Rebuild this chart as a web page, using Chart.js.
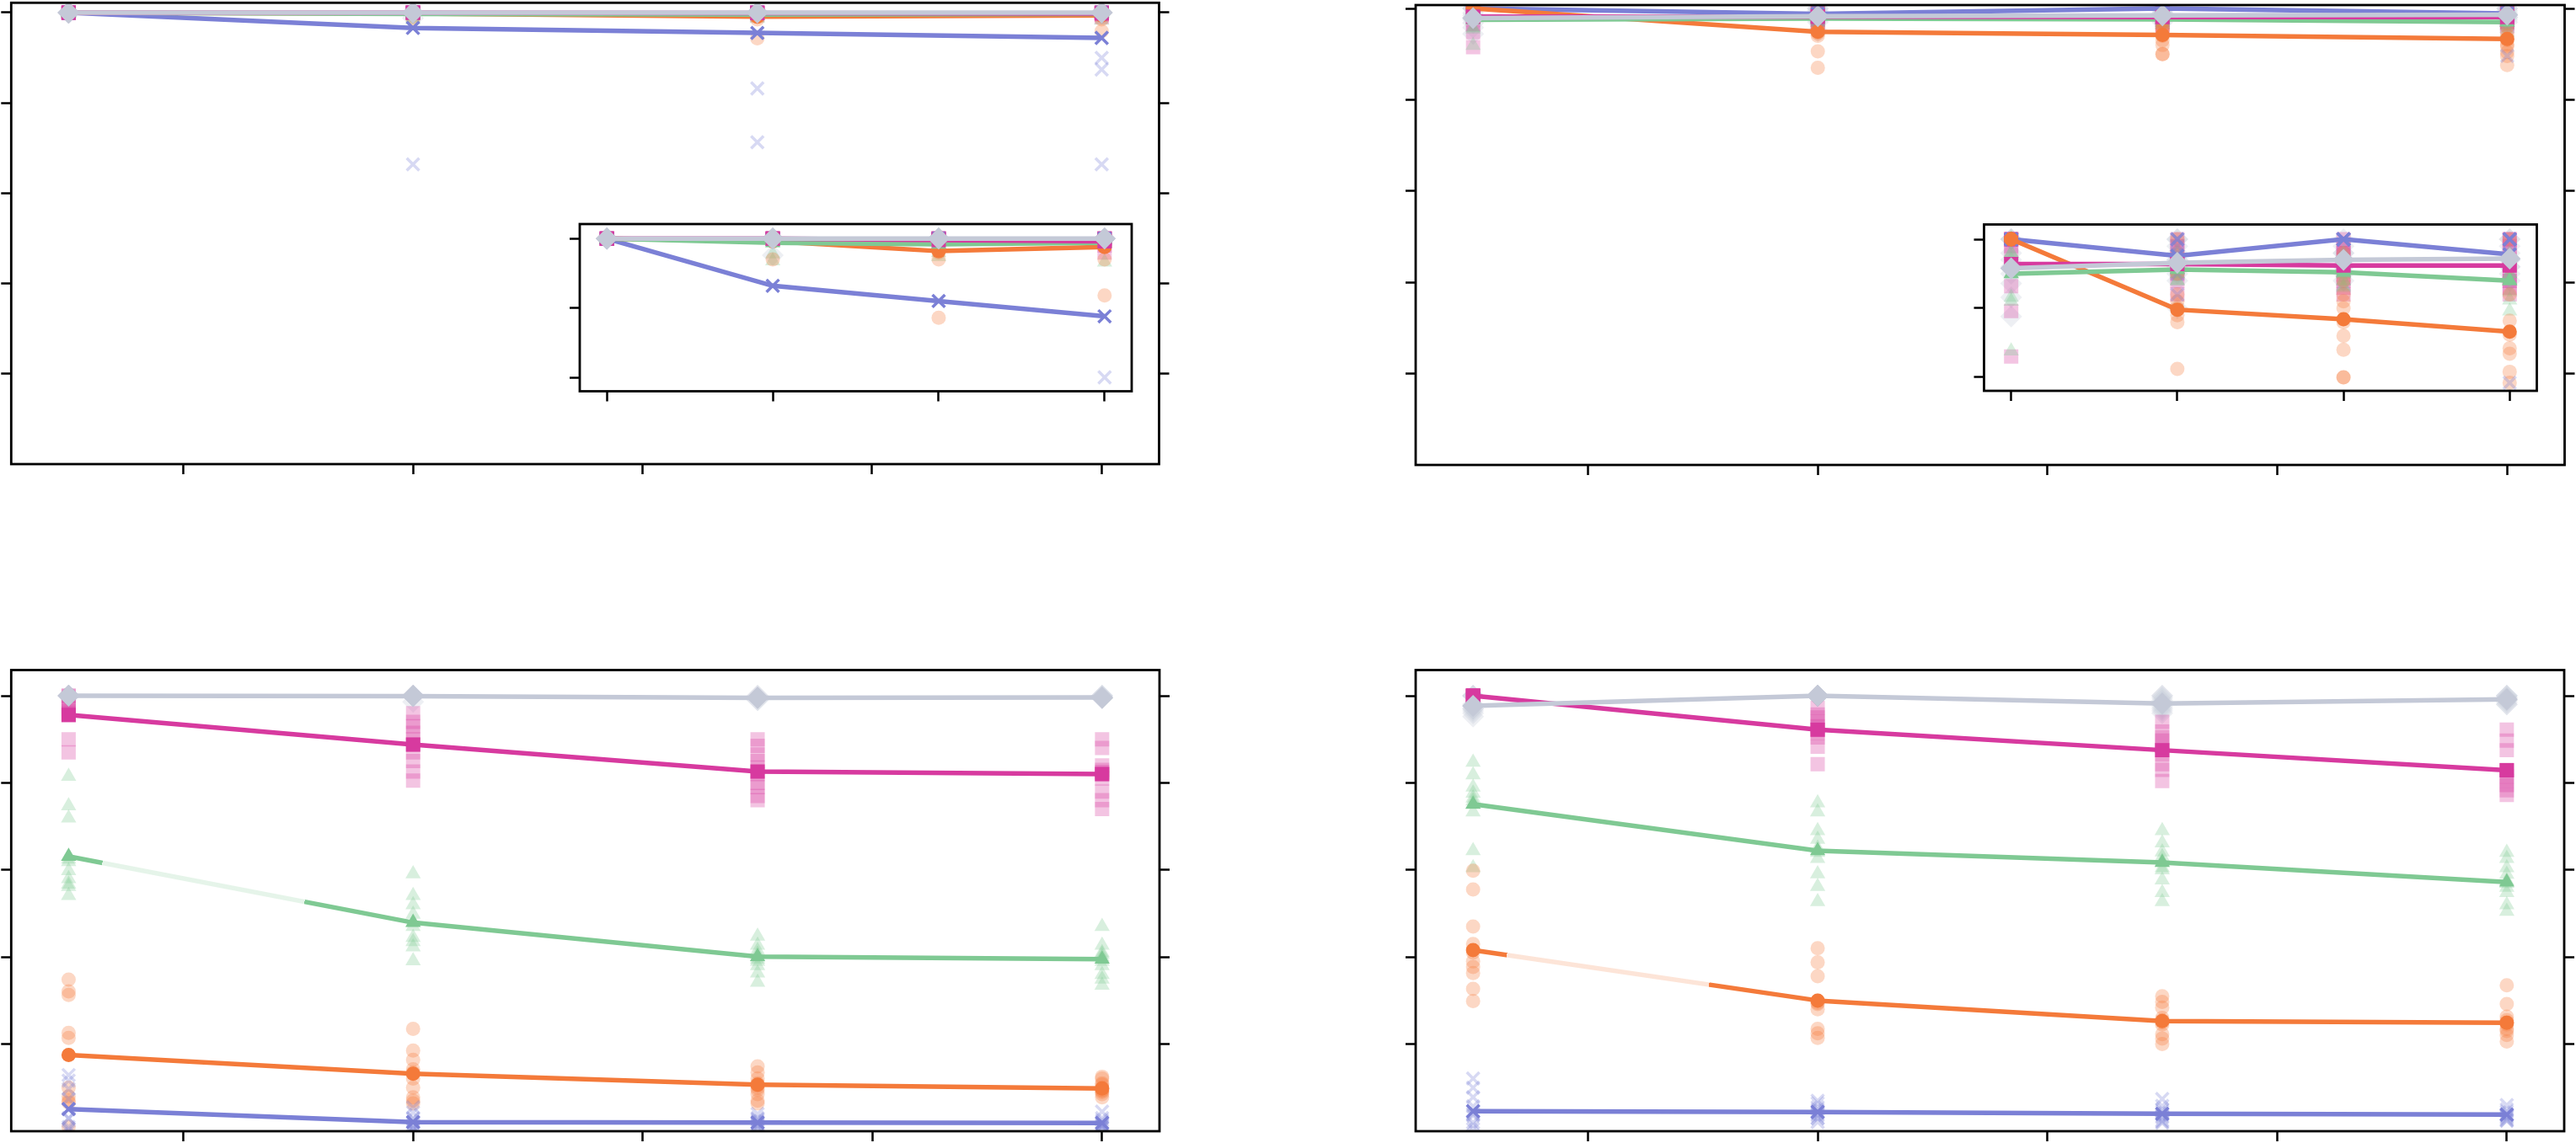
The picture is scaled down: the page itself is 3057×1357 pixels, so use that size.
<!DOCTYPE html>
<html lang="en">
<head>
<meta charset="UTF-8">
<title>Runs and mean per step</title>
<script src="https://cdn.jsdelivr.net/npm/chart.js@4"></script>
<style>
  html, body { margin: 0; padding: 0; background: #fff; overflow: hidden; }
  #wrap { position: relative; width: 3057px; height: 1357px; }
  #wrap canvas { position: absolute; left: 0; top: 0; }
</style>
</head>
<body>
<div id="wrap">
  <canvas id="tl" width="3057" height="1357"></canvas>
  <canvas id="tr" width="3057" height="1357"></canvas>
  <canvas id="bl" width="3057" height="1357"></canvas>
  <canvas id="br" width="3057" height="1357"></canvas>
  <canvas id="tlInset" width="3057" height="1357"></canvas>
  <canvas id="trInset" width="3057" height="1357"></canvas>
</div>
<script>
// x positions of the four steps and the tick marks
const xValues = [0, 3, 6, 9];
const xTickValues = [1, 3, 5, 7, 9];
const yTickValues = [0.2, 0.4, 0.6, 0.8, 1.0];
const insetYTickValues = [0.9, 0.95, 1.0];

// ---- top left ----
const tlBlueMean   = [1.000, 0.966, 0.955, 0.944];
const tlOrangeMean = [1.000, 0.998, 0.991, 0.994];
const tlGreenMean  = [1.000, 0.997, 0.996, 0.997];
const tlPinkMean   = [1.000, 1.000, 0.999, 0.998];
const tlGreyMean   = [1.000, 1.000, 1.000, 1.000];
const tlBlueRuns = [
  [1, 1, 1, 1, 1, 1, 1, 1, 1, 1],
  [1, 1, 1, 1, 1, 1, 1, 1, 1, 0.664],
  [1, 1, 1, 1, 1, 1, 1, 1, 0.832, 0.713],
  [1, 1, 1, 1, 1, 1, 1, 0.900, 0.874, 0.664]
];
const tlOrangeRuns = [
  [1, 1, 1, 1, 1, 1, 1, 1, 1, 1],
  [1, 1, 1, 1, 1, 1, 1, 1, 1, 0.985],
  [1, 1, 1, 1, 1, 1, 1, 0.990, 0.985, 0.943],
  [1, 1, 1, 1, 1, 1, 1, 1, 0.985, 0.959]
];
const tlGreenRuns = [
  [1, 1, 1, 1, 1, 1, 1, 1, 1, 1],
  [1, 1, 1, 1, 1, 1, 1, 1, 0.989, 0.984],
  [1, 1, 1, 1, 1, 1, 1, 1, 0.990, 0.987],
  [1, 1, 1, 1, 1, 1, 1, 1, 1, 0.983]
];
const tlPinkRuns = [
  [1, 1, 1, 1, 1, 1, 1, 1, 1, 1],
  [1, 1, 1, 1, 1, 1, 1, 1, 1, 1],
  [1, 1, 1, 1, 1, 1, 1, 1, 1, 0.995],
  [1, 1, 1, 1, 1, 1, 1, 1, 0.995, 0.990]
];
const tlGreyRuns = [
  [1, 1, 1, 1, 1, 1, 1, 1, 1, 1],
  [1, 1, 1, 1, 1, 1, 1, 1, 1, 0.988],
  [1, 1, 1, 1, 1, 1, 1, 1, 1, 1],
  [1, 1, 1, 1, 1, 1, 1, 1, 1, 1]
];

// ---- top right ----
const trBlueMean   = [1.000, 0.988, 1.000, 0.989];
const trOrangeMean = [1.000, 0.949, 0.942, 0.933];
const trGreenMean  = [0.975, 0.978, 0.976, 0.970];
const trPinkMean   = [0.982, 0.982, 0.981, 0.981];
const trGreyMean   = [0.979, 0.983, 0.985, 0.986];
const trBlueRuns = [
  [1, 1, 1, 1, 1, 1, 1, 1, 1, 1],
  [1, 1, 1, 1, 0.995, 0.990, 0.985, 0.980, 0.975, 0.960],
  [1, 1, 1, 1, 1, 1, 1, 1, 1, 1],
  [1, 1, 1, 1, 1, 1, 1, 1, 0.990, 0.896]
];
const trOrangeRuns = [
  [1, 1, 1, 1, 1, 1, 1, 1, 1, 1],
  [1.000, 0.990, 0.975, 0.960, 0.955, 0.950, 0.945, 0.940, 0.906, 0.870],
  [0.990, 0.970, 0.960, 0.955, 0.950, 0.940, 0.930, 0.920, 0.900, 0.900],
  [1.000, 0.980, 0.960, 0.941, 0.931, 0.921, 0.917, 0.904, 0.896, 0.876]
];
const trGreenRuns = [
  [1.000, 1.000, 0.990, 0.990, 0.985, 0.980, 0.975, 0.958, 0.955, 0.919],
  [0.990, 0.985, 0.980, 0.980, 0.978, 0.977, 0.975, 0.975, 0.970, 0.970],
  [0.990, 0.985, 0.980, 0.980, 0.975, 0.975, 0.970, 0.970, 0.965, 0.966],
  [0.990, 0.985, 0.980, 0.975, 0.975, 0.970, 0.970, 0.962, 0.956, 0.948]
];
const trPinkRuns = [
  [1.000, 1.000, 1.000, 1.000, 1.000, 0.995, 0.990, 0.966, 0.948, 0.915],
  [1.000, 0.995, 0.990, 0.985, 0.985, 0.980, 0.980, 0.975, 0.970, 0.960],
  [1.000, 0.995, 0.990, 0.990, 0.985, 0.980, 0.975, 0.970, 0.965, 0.960],
  [1.000, 1.000, 0.995, 0.990, 0.985, 0.975, 0.970, 0.970, 0.965, 0.960]
];
const trGreyRuns = [
  [1.000, 1.000, 1.000, 0.990, 0.985, 0.980, 0.975, 0.968, 0.958, 0.944],
  [1.000, 1.000, 0.995, 0.990, 0.985, 0.985, 0.980, 0.975, 0.970, 0.950],
  [1.000, 0.995, 0.990, 0.990, 0.985, 0.985, 0.980, 0.980, 0.975, 0.970],
  [1.000, 1.000, 0.995, 0.990, 0.985, 0.985, 0.980, 0.980, 0.975, 0.970]
];

// ---- bottom left ----
const blBlueMean   = [0.051, 0.021, 0.020, 0.019];
const blOrangeMean = [0.175, 0.132, 0.107, 0.098];
const blGreenMean  = [0.631, 0.479, 0.401, 0.395];
const blPinkMean   = [0.956, 0.888, 0.826, 0.820];
const blGreyMean   = [1.000, 0.999, 0.995, 0.996];
const blBlueRuns = [
  [0.129, 0.116, 0.097, 0.074, 0.050, 0.030, 0.029, 0.010, 0.005, 0.000],
  [0.055, 0.043, 0.030, 0.028, 0.020, 0.014, 0.010, 0.007, 0.005, 0.000],
  [0.040, 0.030, 0.028, 0.025, 0.020, 0.018, 0.015, 0.012, 0.008, 0.004],
  [0.045, 0.030, 0.025, 0.020, 0.018, 0.015, 0.013, 0.010, 0.008, 0.008]
];
const blOrangeRuns = [
  [0.348, 0.321, 0.313, 0.226, 0.214, 0.100, 0.080, 0.070, 0.066, 0.010],
  [0.235, 0.185, 0.164, 0.142, 0.135, 0.121, 0.100, 0.078, 0.070, 0.064],
  [0.149, 0.135, 0.121, 0.110, 0.105, 0.100, 0.095, 0.085, 0.070, 0.064],
  [0.125, 0.121, 0.110, 0.107, 0.100, 0.095, 0.093, 0.090, 0.085, 0.078]
];
const blGreenRuns = [
  [0.815, 0.747, 0.719, 0.625, 0.619, 0.598, 0.580, 0.567, 0.562, 0.541],
  [0.591, 0.541, 0.520, 0.498, 0.480, 0.470, 0.445, 0.435, 0.423, 0.391],
  [0.448, 0.427, 0.415, 0.406, 0.400, 0.395, 0.390, 0.380, 0.363, 0.342],
  [0.470, 0.427, 0.410, 0.406, 0.400, 0.390, 0.380, 0.360, 0.349, 0.335]
];
const blPinkRuns = [
  [1.000, 1.000, 0.985, 0.975, 0.970, 0.965, 0.960, 0.955, 0.900, 0.870],
  [0.960, 0.940, 0.930, 0.915, 0.900, 0.888, 0.870, 0.850, 0.826, 0.805],
  [0.900, 0.885, 0.865, 0.850, 0.835, 0.820, 0.800, 0.790, 0.770, 0.760],
  [0.900, 0.880, 0.840, 0.830, 0.825, 0.820, 0.810, 0.780, 0.760, 0.740]
];
const blGreyRuns = [
  [1, 1, 1, 1, 1, 1, 1, 1, 1, 1],
  [1, 1, 1, 1, 1, 1, 1, 1, 1, 0.986],
  [1.000, 1.000, 0.995, 0.995, 0.995, 0.995, 0.995, 0.995, 0.990, 0.990],
  [1.000, 1.000, 1.000, 0.995, 0.995, 0.995, 0.995, 0.995, 0.995, 0.994]
];

// ---- bottom right ----
const brBlueMean   = [0.046, 0.044, 0.040, 0.038];
const brOrangeMean = [0.416, 0.300, 0.253, 0.249];
const brGreenMean  = [0.751, 0.644, 0.617, 0.572];
const brPinkMean   = [1.000, 0.922, 0.875, 0.829];
const brGreyMean   = [0.977, 1.000, 0.982, 0.992];
const brBlueRuns = [
  [0.121, 0.100, 0.078, 0.057, 0.046, 0.040, 0.036, 0.020, 0.014, 0.005],
  [0.070, 0.064, 0.055, 0.050, 0.045, 0.040, 0.036, 0.030, 0.030, 0.021],
  [0.074, 0.058, 0.050, 0.045, 0.040, 0.035, 0.032, 0.025, 0.022, 0.019],
  [0.060, 0.050, 0.045, 0.040, 0.038, 0.035, 0.032, 0.028, 0.025, 0.024]
];
const brOrangeRuns = [
  [0.598, 0.555, 0.470, 0.430, 0.410, 0.390, 0.377, 0.363, 0.327, 0.299],
  [0.420, 0.388, 0.356, 0.300, 0.295, 0.292, 0.280, 0.235, 0.225, 0.214],
  [0.310, 0.297, 0.284, 0.260, 0.255, 0.250, 0.245, 0.223, 0.213, 0.200],
  [0.335, 0.292, 0.263, 0.255, 0.250, 0.245, 0.235, 0.230, 0.221, 0.206]
];
const brGreenRuns = [
  [0.847, 0.818, 0.790, 0.776, 0.765, 0.758, 0.750, 0.733, 0.644, 0.605],
  [0.754, 0.733, 0.690, 0.670, 0.650, 0.640, 0.626, 0.591, 0.562, 0.527],
  [0.690, 0.662, 0.641, 0.630, 0.620, 0.605, 0.600, 0.577, 0.548, 0.527],
  [0.640, 0.626, 0.605, 0.590, 0.575, 0.569, 0.560, 0.548, 0.520, 0.505]
];
const brPinkRuns = [
  [1, 1, 1, 1, 1, 1, 1, 1, 1, 1],
  [0.972, 0.957, 0.950, 0.940, 0.930, 0.922, 0.915, 0.904, 0.883, 0.843],
  [0.940, 0.918, 0.905, 0.897, 0.885, 0.875, 0.865, 0.830, 0.843, 0.804],
  [0.922, 0.897, 0.875, 0.830, 0.829, 0.815, 0.795, 0.804, 0.783, 0.772]
];
const brGreyRuns = [
  [1.000, 1.000, 1.000, 0.980, 0.975, 0.970, 0.970, 0.965, 0.960, 0.952],
  [1, 1, 1, 1, 1, 1, 1, 1, 1, 1],
  [1.000, 1.000, 0.995, 0.990, 0.985, 0.980, 0.975, 0.970, 0.960, 0.965],
  [1.000, 1.000, 1.000, 0.995, 0.995, 0.990, 0.990, 0.985, 0.980, 0.980]
];

// ---- drawing ----
const W = 3057, H = 1357, TICK = 12;

const SERIES = [
  { key: 'blue',   color: '#7b80d6', rgb: '123,128,214', style: 'crossRot', radius: 10.5, order: 5 },
  { key: 'orange', color: '#f47a3a', rgb: '244,122,58',  style: 'circle',   radius: 8.5,  order: 4 },
  { key: 'green',  color: '#7fc993', rgb: '127,201,147', style: 'triangle', radius: 10.5, order: 3 },
  { key: 'pink',   color: '#d73a9f', rgb: '215,58,159',  style: 'rect',     radius: 12,   order: 2 },
  { key: 'grey',   color: '#c4c9d7', rgb: '196,201,215', style: 'rectRot',  radius: 13,   order: 1 }
];

// first segment of some lines is partly washed out in the original
function fadedFirstSegment(color, pale) {
  return ctx => {
    if (ctx.p0DataIndex !== 0) return color;
    const g = ctx.chart.ctx.createLinearGradient(ctx.p0.x, ctx.p0.y, ctx.p1.x, ctx.p1.y);
    g.addColorStop(0, color);
    g.addColorStop(0.098, color);
    g.addColorStop(0.098, pale);
    g.addColorStop(0.685, pale);
    g.addColorStop(0.685, color);
    g.addColorStop(1, color);
    return g;
  };
}

function buildDatasets(means, runs, faded) {
  const sets = [];
  SERIES.forEach((s, i) => {
    const isCross = s.style === 'crossRot';
    const pts = [];
    runs[i].forEach((col, j) => col.forEach(v => pts.push({ x: xValues[j], y: v })));
    sets.push({
      data: pts,
      showLine: false,
      order: 20 + i,
      pointStyle: s.style,
      pointRadius: s.radius,
      pointBackgroundColor: 'rgba(' + s.rgb + ',0.3)',
      pointBorderColor: 'rgba(' + s.rgb + ',0.3)',
      pointBorderWidth: isCross ? 3.5 : 0,
      clip: 0
    });
    const line = {
      data: means[i].map((v, j) => ({ x: xValues[j], y: v })),
      borderColor: s.color,
      borderWidth: 5.5,
      order: s.order,
      pointStyle: s.style,
      pointRadius: s.radius,
      pointBackgroundColor: s.color,
      pointBorderColor: s.color,
      pointBorderWidth: isCross ? 3.5 : 0,
      clip: 0
    };
    if (faded === s.key) {
      line.segment = { borderColor: fadedFirstSegment(s.color, 'rgba(' + s.rgb + ',0.2)') };
    }
    sets.push(line);
  });
  return sets;
}

const framePlugin = {
  id: 'frame',
  beforeDraw(chart, args, opts) {
    if (!opts.fill) return;
    const a = chart.chartArea, c = chart.ctx;
    c.save();
    c.fillStyle = '#fff';
    c.fillRect(a.left, a.top, a.right - a.left, a.bottom - a.top);
    c.restore();
  },
  afterDraw(chart) {
    const a = chart.chartArea, c = chart.ctx;
    c.save();
    c.strokeStyle = '#000';
    c.lineWidth = 2.8;
    c.strokeRect(a.left, a.top, a.right - a.left, a.bottom - a.top);
    c.restore();
  }
};

function tickAxis(position, min, max, values) {
  const horizontal = position === 'bottom';
  return {
    type: 'linear',
    position,
    min, max,
    afterBuildTicks: s => { s.ticks = values.map(v => ({ value: v })); },
    afterFit: s => { if (horizontal) s.height = TICK; else s.width = TICK; },
    ticks: { display: false },
    grid: { drawOnChartArea: false, drawTicks: true, tickLength: TICK, tickWidth: 2.5, tickColor: '#000' },
    border: { display: false }
  };
}

function makeChart(id, box, xRange, yRange, xTicks, yTicks, rightTicks, inset, datasets) {
  const scales = {
    x: tickAxis('bottom', xRange[0], xRange[1], xTicks),
    y: tickAxis('left', yRange[0], yRange[1], yTicks)
  };
  if (rightTicks) scales.y2 = tickAxis('right', yRange[0], yRange[1], yTicks);
  return new Chart(document.getElementById(id), {
    type: 'line',
    data: { datasets },
    options: {
      responsive: false,
      animation: false,
      devicePixelRatio: 1,
      events: [],
      layout: {
        autoPadding: false,
        padding: {
          left: box.l - TICK,
          top: box.t,
          right: W - box.r - (rightTicks ? TICK : 0),
          bottom: H - box.b - TICK
        }
      },
      scales,
      plugins: { legend: { display: false }, tooltip: { enabled: false }, frame: { fill: inset } }
    },
    plugins: [framePlugin]
  });
}

const tlMeans = [tlBlueMean, tlOrangeMean, tlGreenMean, tlPinkMean, tlGreyMean];
const tlRuns  = [tlBlueRuns, tlOrangeRuns, tlGreenRuns, tlPinkRuns, tlGreyRuns];
const trMeans = [trBlueMean, trOrangeMean, trGreenMean, trPinkMean, trGreyMean];
const trRuns  = [trBlueRuns, trOrangeRuns, trGreenRuns, trPinkRuns, trGreyRuns];
const blMeans = [blBlueMean, blOrangeMean, blGreenMean, blPinkMean, blGreyMean];
const blRuns  = [blBlueRuns, blOrangeRuns, blGreenRuns, blPinkRuns, blGreyRuns];
const brMeans = [brBlueMean, brOrangeMean, brGreenMean, brPinkMean, brGreyMean];
const brRuns  = [brBlueRuns, brOrangeRuns, brGreenRuns, brPinkRuns, brGreyRuns];

const mainX = [-0.5, 9.5];
const insetX = [-0.49, 9.49];

makeChart('tl', { l: 13.3, t: 3.3, r: 1375.5, b: 551 }, mainX, [0, 1.0218],
  xTickValues, yTickValues, true, false, buildDatasets(tlMeans, tlRuns));
makeChart('tr', { l: 1680, t: 6, r: 3043.5, b: 552 }, mainX, [0, 1.0074],
  xTickValues, yTickValues, true, false, buildDatasets(trMeans, trRuns));
makeChart('bl', { l: 13.3, t: 795.5, r: 1376, b: 1343 }, mainX, [0, 1.059],
  xTickValues, yTickValues, true, false, buildDatasets(blMeans, blRuns, 'green'));
makeChart('br', { l: 1680, t: 795.5, r: 3043, b: 1343 }, mainX, [0, 1.059],
  xTickValues, yTickValues, true, false, buildDatasets(brMeans, brRuns, 'orange'));

makeChart('tlInset', { l: 688, t: 266, r: 1343, b: 464.5 }, insetX, [0.890, 1.0105],
  xValues, insetYTickValues, false, true, buildDatasets(tlMeans, tlRuns));
makeChart('trInset', { l: 2354.5, t: 266.5, r: 3010.5, b: 464 }, insetX, [0.8902, 1.0107],
  xValues, insetYTickValues, false, true, buildDatasets(trMeans, trRuns));
</script>
</body>
</html>
